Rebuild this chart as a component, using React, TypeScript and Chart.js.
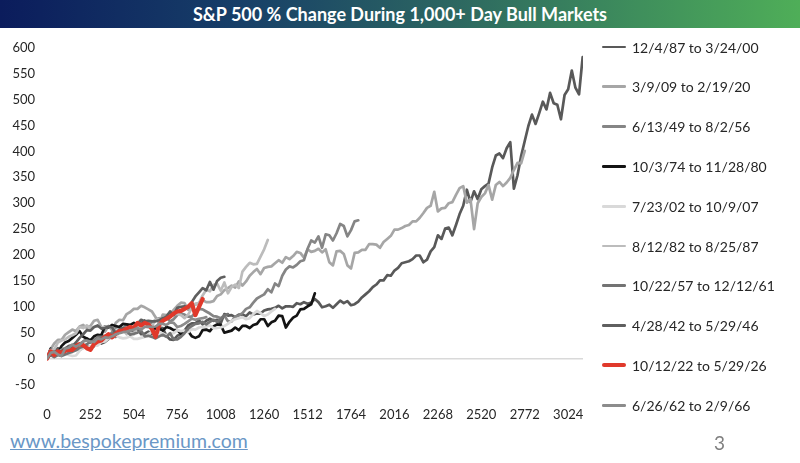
import React, { useEffect, useRef } from "react";
import { Chart, registerables } from "chart.js";

Chart.register(...registerables);

const TITLE = "S&P 500 % Change During 1,000+ Day Bull Markets";
const FOOTER_URL = "www.bespokepremium.com";
const PAGE_NUMBER = "3";

// Trading days between successive samples (roughly one month of sessions)
const DAY_STEP = 21;
const X_MAX = 3110;
const X_TICKS = [0, 252, 504, 756, 1008, 1260, 1512, 1764, 2016, 2268, 2520, 2772, 3024];
const Y_MIN = -50;
const Y_MAX = 600;
const Y_STEP = 50;

const LABELS = [
  "12/4/87 to 3/24/00",
  "3/9/09 to 2/19/20",
  "6/13/49 to 8/2/56",
  "10/3/74 to 11/28/80",
  "7/23/02 to 10/9/07",
  "8/12/82 to 8/25/87",
  "10/22/57 to 12/12/61",
  "4/28/42 to 5/29/46",
  "10/12/22 to 5/29/26",
  "6/26/62 to 2/9/66",
];

const COLORS = [
  "#595959",
  "#a6a6a6",
  "#858585",
  "#141414",
  "#d9d9d9",
  "#bcbcbc",
  "#737373",
  "#5f5f5f",
  "#e0392b",
  "#8c8c8c",
];

const WIDTHS = [2.7, 2.7, 2.7, 2.7, 2.7, 2.7, 2.7, 2.7, 4.2, 2.7];

// % change from the start of each bull market, sampled about monthly
const BULL_1987 = [
  0, 10,
  15, 20, 16, 17, 17, 22, 21, 17, 21, 25, 22, 24,
  33, 29, 32, 38, 43, 42, 55, 57, 56, 52, 55, 58,
  47, 48, 52, 48, 61, 60, 59, 44, 37, 36, 44, 47,
  54, 64, 68, 68, 74, 66, 73, 77, 73, 75, 68, 86,
  83, 84, 80, 85, 85, 82, 89, 85, 87, 87, 93, 95,
  96, 98, 102, 97, 101, 101, 100, 107, 105, 109, 106, 108,
  115, 109, 99, 101, 104, 98, 105, 112, 107, 111, 103, 105,
  110, 118, 124, 130, 138, 143, 151, 151, 161, 160, 170, 175,
  184, 186, 188, 192, 199, 199, 186, 191, 207, 215, 238, 231,
  251, 253, 238, 258, 279, 295, 326, 302, 323, 308, 327, 333,
  338, 369, 392, 396, 387, 406, 418, 328, 354, 391, 420, 449,
  471, 453, 474, 496, 481, 513, 493, 490, 462, 509, 520, 556,
  523, 510, 582,
];

const BULL_2009 = [
  0,
  18, 29, 36, 36, 46, 51, 56, 53, 62, 65,
  59, 63, 73, 75, 61, 52, 63, 55, 69, 75, 74, 86,
  90, 96, 96, 102, 99, 95, 91, 80, 67, 85, 84, 86,
  94, 102, 108, 107, 94, 101, 104, 108, 113, 109, 109, 111,
  121, 124, 132, 136, 141, 137, 149, 141, 149, 160, 167, 173,
  163, 175, 177, 178, 184, 190, 185, 196, 192, 198, 206, 204,
  195, 211, 206, 208, 212, 205, 211, 186, 180, 207, 208, 202,
  180, 174, 204, 205, 210, 210, 221, 221, 220, 214, 225, 231,
  237, 249, 249, 252, 256, 258, 265, 265, 272, 281, 291, 295,
  322, 284, 290, 291, 300, 302, 316, 329, 333, 301, 308, 250,
  300, 312, 319, 335, 307, 335, 341, 333, 340, 349, 364, 378,
  377, 401,
];

const BULL_1949 = [
  0,
  11, 12, 15, 18, 20, 24,
  26, 27, 28, 33, 39, 31, 32, 36, 44, 44, 44, 51,
  60, 61, 58, 66, 59, 55, 65, 72, 72, 69, 69, 75,
  78, 72, 80, 72, 76, 84, 87, 85, 81, 81, 89, 96,
  95, 91, 87, 82, 81, 78, 83, 72, 72, 81, 83, 88,
  96, 99, 108, 116, 120, 124, 134, 128, 145, 140, 160, 172,
  178, 176, 181, 188, 190, 212, 228, 224, 236, 214, 240, 238,
  228, 242, 260, 256, 236, 248, 265,
  267,
];

const BULL_1974 = [
  0,
  19, 12, 10,
  24, 31, 34, 40, 46, 53, 42, 39, 35, 43, 46, 45,
  62, 60, 65, 63, 61, 67, 66, 65, 69, 65, 64, 73,
  64, 60, 58, 58, 54, 61, 59, 55, 55, 48, 52, 53,
  43, 40, 43, 55, 56, 53, 62, 66, 65, 50, 52, 54,
  60, 55, 63, 63, 59, 65, 67, 76, 76, 63, 70, 73,
  83, 82, 60, 71, 79, 83, 95, 96, 101, 105,
  126,
];

const BULL_2002 = [
  0,
  15, 2, 11, 17, 10,
  7, 5, 6, 15, 21, 22, 24, 26, 25, 32, 33, 39,
  42, 44, 41, 39, 40, 43, 38, 38, 40, 42, 47, 52,
  48, 51, 48, 45, 49, 49, 55, 53, 54, 51, 57, 56,
  60, 61, 62, 64, 59, 59, 60, 63, 67, 73, 76, 78,
  80, 76, 78, 86, 92, 88, 82, 85, 91,
  96,
];

const BULL_1982 = [
  0,
  17, 18, 31, 35, 37,
  42, 45, 49, 61, 59, 64, 59, 61, 62, 60, 62, 61,
  60, 53, 55, 56, 47, 50, 47, 63, 62, 62, 60, 63,
  75, 77, 76, 76, 85, 87, 86, 84, 78, 85, 97, 106,
  107, 122, 133, 130, 142, 145, 131, 147, 126, 138, 143, 136,
  168, 177, 185, 182, 183, 197, 211,
  229,
];

const BULL_1957 = [
  0,
  7, 3,
  7, 5, 8, 11, 13, 16, 21, 23, 28, 32, 35, 42,
  42, 42, 42, 48, 51, 50, 55, 53, 46, 48, 50, 54,
  43, 44, 42, 39, 43, 46, 42, 49, 37, 37, 42, 49,
  58, 63, 67, 68, 71, 66, 71, 75, 71, 76, 83,
  86,
];

const BULL_1942 = [
  0,
  8, 12, 15, 15, 18, 24, 24, 31,
  40, 47, 55, 54, 61, 64, 58, 59, 62, 60, 49, 56,
  59, 58, 61, 59, 67, 75, 72, 73, 72, 72, 74, 78,
  81, 91, 84, 98, 100, 101, 98, 109, 120, 128, 136, 132,
  148, 133, 150, 156,
  158,
];

const BULL_2022 = [
  0,
  14, 7,
  14, 11, 15, 17, 17, 24, 28, 26, 20, 17, 28, 33,
  35, 42, 47, 41, 48, 53, 54, 58, 61, 59, 69, 64,
  69, 66, 57, 42, 65, 73, 77, 81, 87, 91, 92, 96,
  100, 107, 84, 100,
  115,
];

const BULL_1962 = [
  0,
  11, 13, 8, 5, 19, 21,
  27, 23, 27, 33, 35, 33, 32, 39, 37, 41, 40, 43,
  47, 49, 51, 52, 54, 56, 59, 56, 61, 62, 61, 62,
  67, 67, 65, 70, 69, 61, 63, 67, 72, 77, 75, 77,
  78,
  80,
];

const SERIES = [
  BULL_1987,
  BULL_2009,
  BULL_1949,
  BULL_1974,
  BULL_2002,
  BULL_1982,
  BULL_1957,
  BULL_1942,
  BULL_2022,
  BULL_1962,
];

const FONT = "Lato, 'Noto Sans', sans-serif";

export default function App() {
  const canvasRef = useRef<HTMLCanvasElement | null>(null);

  useEffect(() => {
    const canvas = canvasRef.current;
    if (!canvas) return;
    const n = SERIES.length;
    const chart = new Chart(canvas, {
      type: "line",
      data: {
        datasets: SERIES.map((values, i) => ({
          label: LABELS[i],
          data: values.map((v, k) => ({ x: k * DAY_STEP, y: v })),
          borderColor: COLORS[i],
          backgroundColor: COLORS[i],
          borderWidth: WIDTHS[i],
          pointRadius: 0,
          tension: 0,
          fill: false,
          borderJoinStyle: "round" as const,
          borderCapStyle: "round" as const,
          // later series sit on top of earlier ones
          order: n - i,
        })),
      },
      options: {
        responsive: false,
        maintainAspectRatio: false,
        animation: false,
        events: [],
        layout: { padding: { top: 15, right: 217, left: 0, bottom: 0 } },
        plugins: {
          legend: { display: false },
          tooltip: { enabled: false },
          title: { display: false },
        },
        scales: {
          x: {
            type: "linear",
            min: 0,
            max: X_MAX,
            grid: { display: false },
            border: { display: false },
            afterBuildTicks: (scale: any) => {
              scale.ticks = X_TICKS.map((v) => ({ value: v }));
            },
            afterFit: (scale: any) => {
              scale.height = 43.5;
            },
            ticks: {
              autoSkip: false,
              maxRotation: 0,
              padding: 15,
              color: "#262626",
              font: { family: FONT, size: 13 },
              callback: (v: any) => String(v),
            },
          },
          y: {
            type: "linear",
            min: Y_MIN,
            max: Y_MAX,
            border: { display: false },
            grid: {
              drawTicks: false,
              lineWidth: 1.5,
              color: (ctx: any) => (ctx.tick && ctx.tick.value === 0 ? "#d9d9d9" : "rgba(0,0,0,0)"),
            },
            afterFit: (scale: any) => {
              scale.width = 47;
            },
            ticks: {
              stepSize: Y_STEP,
              padding: 12,
              color: "#262626",
              font: { family: FONT, size: 13 },
              callback: (v: any) => String(v),
            },
          },
        },
      },
    });
    return () => chart.destroy();
  }, []);

  return (
    <div
      style={{
        position: "fixed",
        left: 0,
        top: 0,
        width: 800,
        height: 463,
        background: "#ffffff",
        overflow: "hidden",
        fontFamily: FONT,
      }}
    >
      <div
        style={{
          position: "absolute",
          left: 0,
          top: 0,
          width: 800,
          height: 28,
          background: "linear-gradient(90deg, #0b1c5c 0%, #173f68 30%, #2b6461 55%, #3f8f5c 80%, #4fae58 100%)",
          color: "#ffffff",
          fontWeight: 700,
          fontSize: 18,
          lineHeight: "28px",
          textAlign: "center",
        }}
      >
        {TITLE}
      </div>
      <canvas
        ref={canvasRef}
        width={800}
        height={400}
        style={{ position: "absolute", left: 0, top: 28, width: 800, height: 400 }}
      />
      <div style={{ position: "absolute", left: 602, top: 0 }}>
        {LABELS.map((label, i) => (
          <div
            key={label}
            style={{
              position: "absolute",
              left: 0,
              top: 47 + i * 39.8 - 10,
              height: 20,
              display: "flex",
              alignItems: "center",
              whiteSpace: "nowrap",
            }}
          >
            <span
              style={{
                display: "inline-block",
                width: 24,
                height: WIDTHS[i],
                borderRadius: WIDTHS[i] / 2,
                background: COLORS[i],
                marginRight: 6,
              }}
            />
            <span style={{ fontSize: 14, color: "#262626" }}>{label}</span>
          </div>
        ))}
      </div>
      <div
        style={{
          position: "absolute",
          left: 10,
          top: 430,
          fontSize: 19.5,
          lineHeight: "22px",
          color: "#6a97c6",
          textDecoration: "underline",
          whiteSpace: "nowrap",
        }}
      >
        {FOOTER_URL}
      </div>
      <div
        style={{
          position: "absolute",
          left: 714,
          top: 432,
          fontSize: 19,
          lineHeight: "22px",
          color: "#7f7f7f",
        }}
      >
        {PAGE_NUMBER}
      </div>
    </div>
  );
}
